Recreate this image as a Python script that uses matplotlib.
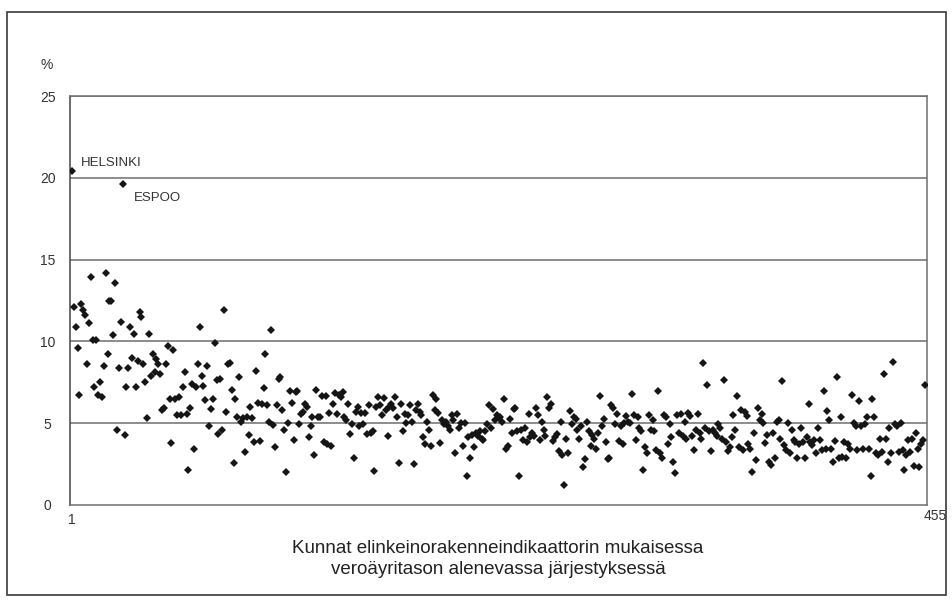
import matplotlib
matplotlib.use("Agg")
import matplotlib.pyplot as plt
from matplotlib.patches import Rectangle
import matplotlib.transforms as mtransforms
import numpy as np

plt.rcParams['font.family'] = ['Liberation Sans', 'DejaVu Sans']

# Values (%) in the order of the municipalities, read in blocks from left to right
part1 = [20.4, 12.1, 10.9, 9.6, 6.7, 12.3, 11.9, 11.6, 8.6, 11.1, 13.95, 10.1, 7.2, 10.1, 6.7,
         7.5, 6.6, 8.5, 14.2, 9.2, 12.5, 12.5, 10.4, 13.6, 4.6, 8.4, 11.2, 19.6, 4.3, 7.2, 8.4,
         10.9, 9.0, 10.45, 7.2, 8.8, 11.8, 11.5, 8.6, 7.5, 5.3, 10.45, 7.9, 9.2, 8.1, 8.9, 8.6,
         8.0, 5.8, 5.9, 8.6, 9.7, 6.5, 3.8, 9.5, 6.5, 5.5]
part2 = [6.6, 5.5, 7.2, 8.15, 5.55, 2.15, 5.9, 7.4, 3.45, 7.2, 8.6, 10.9, 7.9, 7.3, 6.4, 8.5,
         4.85, 5.85, 6.5, 9.9, 7.65, 4.35, 7.7, 4.6, 11.9, 5.7, 8.6, 8.7, 7.0, 2.55, 6.5, 5.4,
         7.85, 5.1, 5.3, 3.25, 5.4, 4.3, 6.0, 5.3, 3.85, 8.2, 6.25, 3.9, 6.2, 7.15, 9.2, 6.1,
         5.1, 10.7, 4.9, 3.55, 6.1, 7.7, 7.8, 5.8, 4.6, 2.0, 5.0, 6.95, 6.25, 3.95]
part3 = [6.9, 6.95, 4.95, 5.55, 5.7, 6.2, 6.0, 4.15, 4.85, 5.4, 3.05, 7.0, 5.35, 5.4, 6.65, 3.85,
         6.65, 3.7, 5.65, 3.6, 6.2, 6.85, 5.55, 6.75, 6.6, 6.9, 5.4, 5.2, 6.2, 4.35, 4.95, 2.85,
         5.7, 6.0, 4.85, 5.65, 4.95, 5.65, 4.35, 6.1, 4.4, 4.55, 2.05, 6.0, 6.6, 6.1, 5.5, 6.55,
         5.8, 4.2, 6.0, 6.2, 5.9, 6.6, 5.4, 2.55, 6.2, 4.55, 5.55, 5.0, 5.5, 6.1, 5.1, 2.5, 5.8,
         6.15]
part4 = [5.7, 5.5, 4.15, 3.7, 5.1, 4.6, 3.6, 6.7, 5.8, 6.5, 5.65, 3.8, 5.2, 4.95, 5.05, 4.8,
         4.6, 5.5, 5.2, 3.2, 5.55, 4.7, 5.0, 3.6, 5.0, 1.8, 4.15, 2.9, 4.3, 3.55, 4.4, 4.2, 4.5,
         4.05, 3.95, 4.5, 4.95, 6.1, 4.7, 5.85, 5.2, 5.5, 5.3, 5.4, 5.1, 6.45, 3.4, 3.6, 5.25,
         4.4, 5.85, 5.9, 4.5, 1.8, 4.6, 3.95, 4.7, 3.85, 5.55, 4.15]
part5 = [4.4, 4.2, 5.9, 5.5, 3.95, 5.05, 4.6, 4.2, 6.6, 5.9, 6.2, 3.9, 4.15, 4.35, 3.3, 5.05,
         3.05, 1.25, 4.05, 3.15, 5.75, 4.95, 5.4, 5.25, 4.6, 4.05, 4.85, 2.35, 2.8, 5.1, 4.5,
         3.6, 4.3, 4.05, 3.45, 4.4, 6.65, 4.85, 5.25, 3.85, 2.8, 2.9, 6.1, 5.9, 4.95, 5.55, 3.9,
         4.85, 3.75, 5.0, 5.45, 5.1, 5.0, 6.8, 5.5, 3.95]
part6 = [5.4, 4.7, 4.5, 2.15, 3.55, 3.15, 5.5, 4.6, 5.2, 4.5, 3.35, 6.95, 3.15, 2.85, 5.5, 5.4,
         3.75, 4.95, 4.15, 2.6, 1.95, 5.5, 4.4, 5.55, 4.2, 5.1, 4.05, 5.6, 5.45, 4.2, 3.35, 4.6,
         5.55, 4.4, 4.05, 8.65, 4.7, 7.35, 4.5, 3.3, 4.6, 4.4, 4.2, 4.95, 4.7, 4.05, 7.65, 3.85,
         3.3, 3.55, 4.15, 5.5, 4.6, 6.65, 3.55, 5.8, 3.35, 5.7]
part7 = [5.45, 3.75, 3.45, 2.0, 4.4, 2.75, 5.9, 5.2, 5.55, 5.0, 3.8, 4.3, 2.65, 2.45, 4.4, 2.85,
         5.1, 5.2, 4.05, 7.55, 3.65, 3.35, 5.0, 3.15, 4.6, 3.95, 3.85, 2.85, 3.75, 4.7, 3.85,
         2.9, 4.15, 6.2, 3.85, 3.65, 3.95, 3.2, 4.7, 3.95, 3.35, 6.95, 3.45, 5.75, 5.2, 3.45,
         2.6, 3.9, 7.8, 2.85, 5.4, 2.95, 3.85, 2.85, 3.75, 3.45, 6.7, 5.0, 4.85, 3.35, 6.35]
part8 = [4.85, 3.45, 4.95, 5.4, 3.4, 1.75, 6.45, 5.4, 3.2, 3.05, 4.05, 3.25, 8.0, 4.05, 2.6,
         4.7, 3.15, 8.75, 4.95, 4.85, 3.25, 5.0, 3.35, 2.15, 3.05, 3.95, 3.25, 4.05, 2.4, 4.4,
         3.45, 2.35, 3.75, 3.95, 7.35]

values = part1 + part2 + part3 + part4 + part5 + part6 + part7 + part8
ranks = np.arange(1, len(values) + 1)

y_ticks = [0, 5, 10, 15, 20, 25]
x_ticks = [1, 455]
x_tick_labels = ["1", "455"]
labels = {"HELSINKI": (6, 20.9), "ESPOO": (34, 18.77)}

W, H = 952, 607
fig = plt.figure(figsize=(W / 100, H / 100), dpi=100)
fig.patch.set_facecolor("white")

# outer frame
fig.patches.append(Rectangle((7 / W, 1 - 595 / H), (946 - 7) / W, (595 - 12) / H,
                             transform=fig.transFigure, fill=False,
                             edgecolor="#3a3a3a", lw=1.2))

left, right, top, bottom = 70, 927, 96, 505
ax = fig.add_axes([left / W, 1 - bottom / H, (right - left) / W, (bottom - top) / H])
ax.set_xlim(0, 456)
ax.set_ylim(0, 25)

for yv in y_ticks[1:]:
    ax.axhline(yv, color="#6e6e6e", lw=1.1, zorder=1)

ax.plot(ranks, values, linestyle="none", marker="D", markersize=4.2,
        color="#151515", markeredgewidth=0, zorder=3)

for sp in ax.spines.values():
    sp.set_color("#6e6e6e")
    sp.set_linewidth(1.1)
ax.spines["left"].set_color("#444444")

ax.set_yticks(y_ticks)
ax.set_yticklabels([str(v) for v in y_ticks])
ax.set_xticks(x_ticks)
ax.set_xticklabels(x_tick_labels)
ax.tick_params(axis="y", length=0, pad=16, labelsize=10, labelcolor="#333333")
ax.tick_params(axis="x", length=0, pad=6, labelsize=10, labelcolor="#333333")
for lab in ax.get_yticklabels():
    lab.set_horizontalalignment("center")
last = ax.get_xticklabels()[1]
last.set_transform(last.get_transform() +
                   mtransforms.ScaledTranslation(7 / 72, 3 / 72, fig.dpi_scale_trans))

for name, (xv, yv) in labels.items():
    ax.text(xv, yv, name, fontsize=9.5, color="#333333", ha="left", va="center")

fig.text(47 / W, 1 - 65 / H, "%", fontsize=10, color="#333333", ha="center", va="center")
fig.text(498 / W, 1 - 559 / H,
         "Kunnat elinkeinorakenneindikaattorin mukaisessa\nveroäyritason alenevassa järjestyksessä",
         fontsize=13.5, color="#222222", ha="center", va="center", linespacing=1.3)

fig.savefig("out.png", dpi=100)
